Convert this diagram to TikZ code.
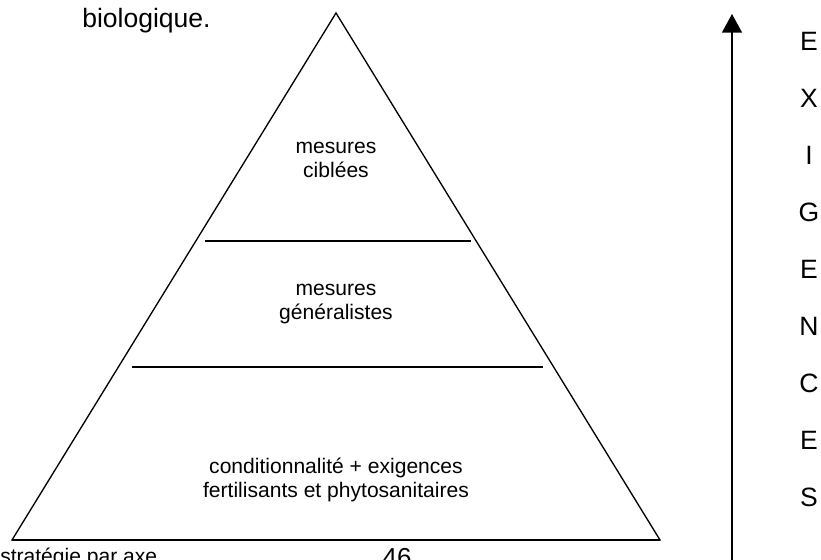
\documentclass[tikz,border=0pt]{standalone}
\usepackage{fontspec}
\setmainfont{Liberation Sans}
\usetikzlibrary{arrows.meta}
\tikzset{
  level/.style={align=center, inner sep=0pt, font=\fontsize{15.8}{18}\selectfont},
  letter/.style={inner sep=0pt, font=\fontsize{19.9}{24}\selectfont},
  pyramid/.style={line width=1pt, line join=miter},
  axisarrow/.style={line width=1.1pt, -{Triangle[width=15pt,length=14pt]}}
}
\begin{document}
\begin{tikzpicture}[x=0.75pt,y=-0.75pt]
\useasboundingbox (0,0) rectangle (821,560);
\node[anchor=base west, inner sep=0pt, font=\fontsize{19.9}{24}\selectfont] at (82,28) (intro) {biologique.};
\coordinate (apex) at (336,13);
\coordinate (baseL) at (12,540);
\coordinate (baseR) at (660,540);
\coordinate (upL) at (205,241);
\coordinate (upR) at (471,241);
\coordinate (lowL) at (132,367);
\coordinate (lowR) at (543,367);
\draw[pyramid] (apex) -- (baseL) -- (baseR) -- cycle;
\draw[pyramid, line width=1.4pt] (baseL) -- (baseR);
\draw[pyramid] (upL) -- (upR);
\draw[pyramid] (lowL) -- (lowR);
\node[level] at (336,160) (top) {mesures\\ciblées};
\node[level] at (336,304) (mid) {mesures\\généralistes};
\node[level] at (336,480) (bottom) {conditionnalité + exigences\\fertilisants et phytosanitaires};
\coordinate (arrowfoot) at (732,562);
\coordinate (arrowtip) at (732,14);
\draw[axisarrow] (arrowfoot) -- (arrowtip);
\foreach \ch [count=\i from 0] in {E,X,I,G,E,N,C,E,S}
  \node[letter] at (809,41+57*\i) (ex\i) {\ch};
\node[anchor=base west, inner sep=0pt, font=\fontsize{15.8}{18}\selectfont] at (0,563) (footer) {stratégie par axe};
\node[anchor=base, inner sep=0pt, font=\fontsize{19.5}{24}\selectfont] at (397,566) (page) {46};
\end{tikzpicture}
\end{document}
